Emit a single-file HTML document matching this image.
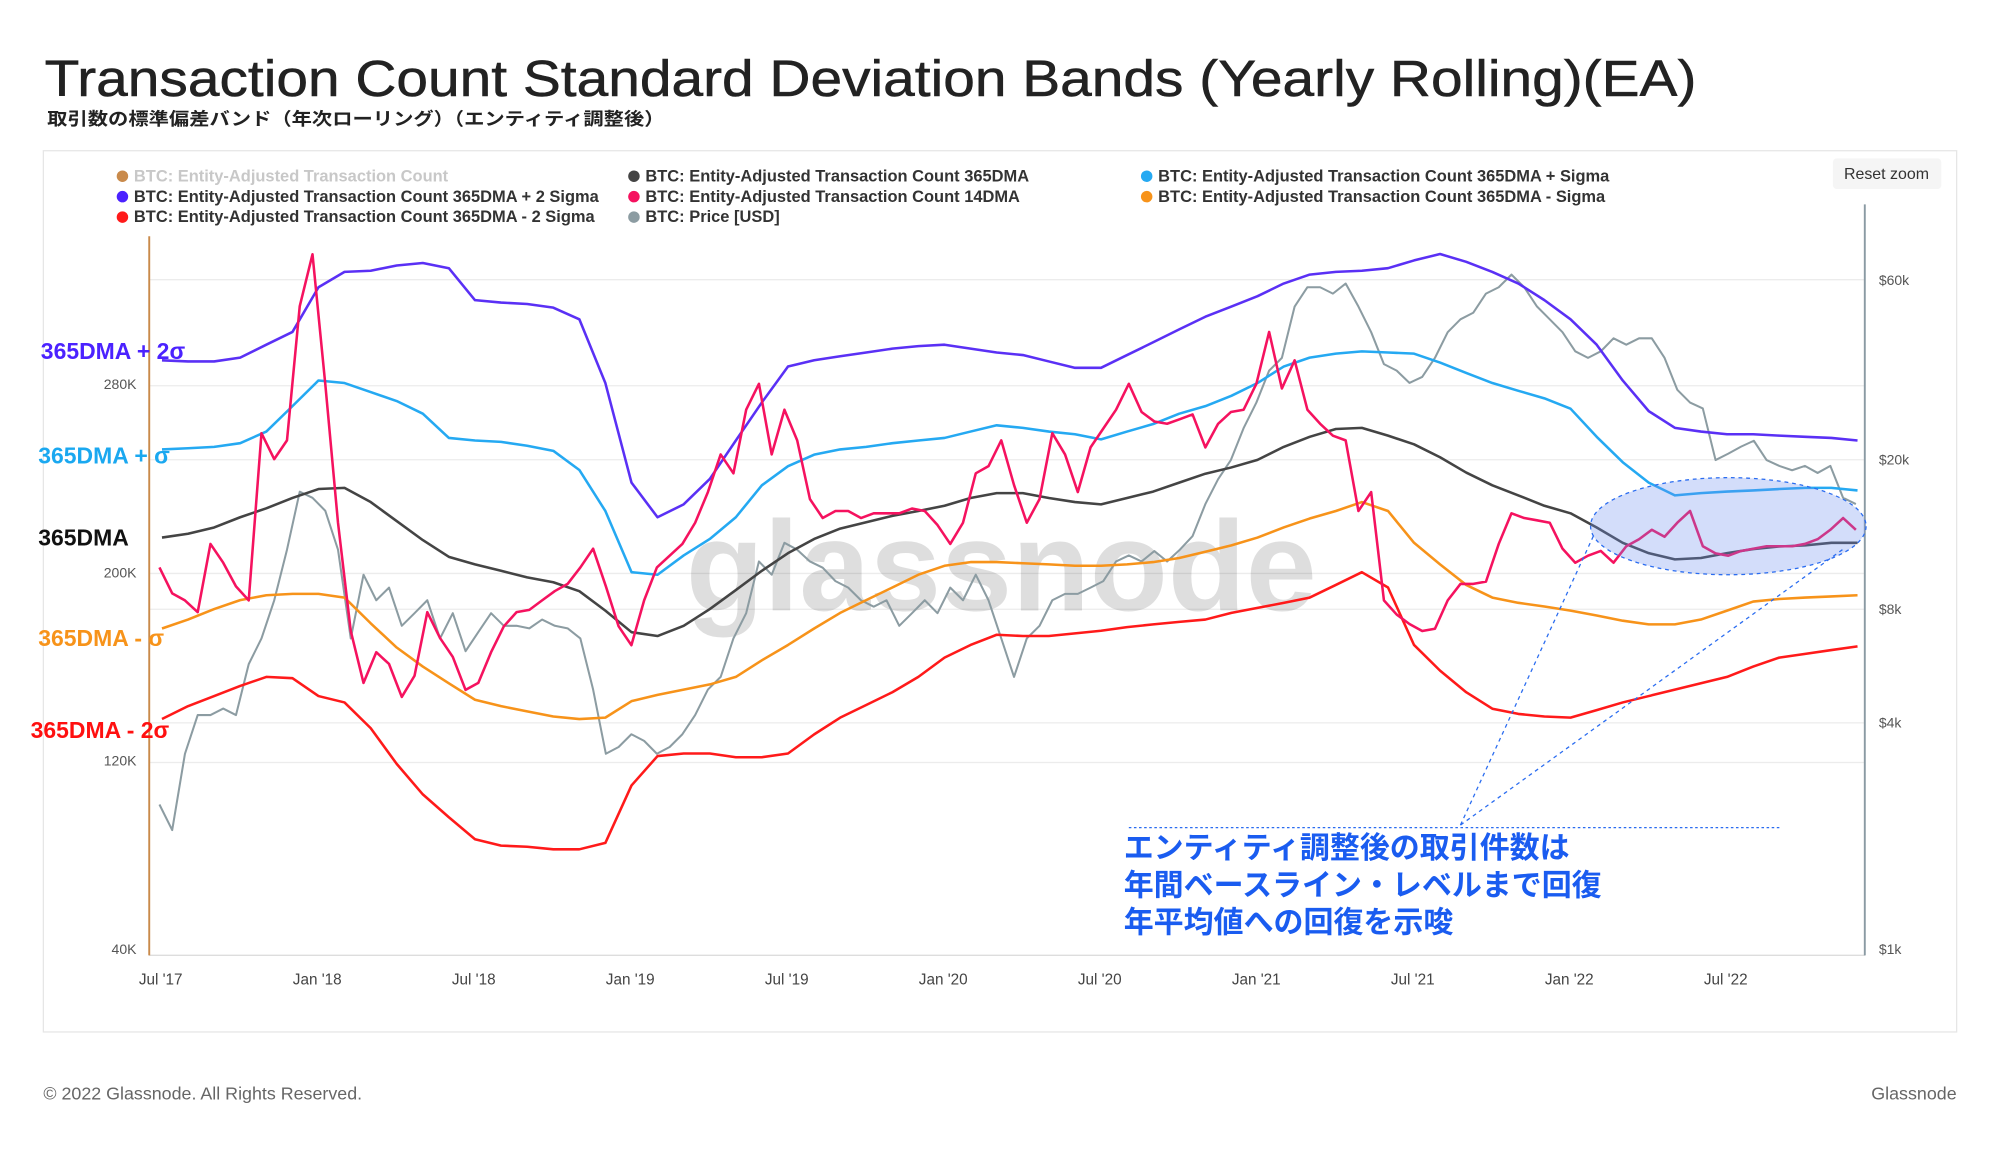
<!DOCTYPE html>
<html><head><meta charset="utf-8">
<style>
html,body{margin:0;padding:0;background:#fff;}
svg{display:block;}
text{font-family:"Liberation Sans","Noto Sans CJK JP",sans-serif;}
</style></head>
<body>
<svg id="chart" width="2000" height="1152" viewBox="0 0 1568 902" preserveAspectRatio="none" xmlns="http://www.w3.org/2000/svg">
<text x="35" y="75" font-size="40" fill="#222" textLength="1295" lengthAdjust="spacingAndGlyphs" stroke="#222" stroke-width="0.4">Transaction Count Standard Deviation Bands (Yearly Rolling)(EA)</text>
<text x="37" y="98" font-size="14" font-weight="bold" fill="#222" textLength="484" lengthAdjust="spacingAndGlyphs">取引数の標準偏差バンド（年次ローリング）（エンティティ調整後）</text>
<rect x="34" y="118" width="1500" height="690" fill="none" stroke="#e6e6e6" stroke-width="1"/>
<g>
<rect x="1437" y="124" width="85" height="24" rx="3" fill="#f5f5f5"/>
<text x="1479" y="140" font-size="12.5" fill="#333" text-anchor="middle">Reset zoom</text>
</g>
<g id="legend" font-size="12.9" font-weight="bold" fill="#333"></g>
<g id="grid"></g>
<text x="785" y="478" font-size="100" fill="#000" fill-opacity="0.13" text-anchor="middle" font-weight="bold">glassnode</text>
<g id="axes" font-size="11" fill="#555"></g>
<g id="series"></g>
<g font-size="18" font-weight="bold">
<text x="32" y="281" fill="#4b22ff">365DMA + 2σ</text>
<text x="30" y="363" fill="#1aa8f0">365DMA + σ</text>
<text x="30" y="427" fill="#111">365DMA</text>
<text x="30" y="506" fill="#f7931a">365DMA - σ</text>
<text x="24" y="578" fill="#ff1010">365DMA - 2σ</text>
</g>
<g>
<ellipse cx="1355" cy="412" rx="108" ry="38" fill="#6c8ff0" fill-opacity="0.3" stroke="#2a6cf0" stroke-width="1" stroke-dasharray="3,3"/>
<line x1="1145" y1="646" x2="1250" y2="418" stroke="#2a6cf0" stroke-width="1" stroke-dasharray="3,3"/>
<line x1="1145" y1="646" x2="1445" y2="430" stroke="#2a6cf0" stroke-width="1" stroke-dasharray="3,3"/>
<line x1="885" y1="648" x2="1395" y2="648" stroke="#2a6cf0" stroke-width="1" stroke-dasharray="2,2"/>
<g font-size="23.5" font-weight="bold" fill="#1a5cf0">
<text x="881" y="672">エンティティ調整後の取引件数は</text>
<text x="881" y="701">年間ベースライン・レベルまで回復</text>
<text x="881" y="730">年平均値への回復を示唆</text>
</g>
</g>
<text x="34" y="861" font-size="14" fill="#666">© 2022 Glassnode. All Rights Reserved.</text>
<text x="1534" y="861" font-size="14" fill="#666" text-anchor="end">Glassnode</text>
</svg>
<script>
// Monthly band data (thousands), t = months since Jul 2017
const mean365 = [214.7,216.3,219,223.3,227.1,231.5,235.3,235.8,229.8,221.7,213.6,206.5,203.3,200.6,197.8,195.7,191.9,183.7,174.5,172.9,177.2,184.3,192.4,200.6,208.1,214.1,218.5,221.2,223.9,226,228.2,231.5,233.6,233.6,231.5,229.8,228.8,231.5,234.2,238,241.8,244.5,247.7,253.2,257.5,260.8,261.3,258,254.3,248.8,242.3,236.9,232.6,228.2,225,219,212.5,208.1,205.4,206,208.1,209.8,210.9,211.4,212.5,212.5];
const plusSigmaY = [352,351,350,347,338,318,298,300,307,314,324,343,345,346,349,353,368,400,448,450,435,422,405,380,365,356,352,350,347,345,343,338,333,335,338,340,344,338,332,324,318,310,300,287,280,277,275,276,277,284,292,300,306,312,320,342,362,378,388,386,385,384,383,382,382,384];
const plus2SigmaY = [282,283,283,280,270,260,225,213,212,208,206,210,235,237,238,241,250,300,378,405,395,375,345,315,287,282,279,276,273,271,270,273,276,278,283,288,288,278,268,258,248,240,232,222,215,213,212,210,204,199,205,213,222,235,250,270,298,322,335,338,340,340,341,342,343,345];
const minusSigmaY = [492,485,477,470,466,465,465,468,488,507,522,535,548,553,557,561,563,562,549,544,540,536,530,517,505,492,480,470,460,450,443,440,440,441,442,443,443,442,440,437,432,427,421,413,406,400,393,400,425,442,458,468,472,475,478,482,486,489,489,485,478,471,469,468,467,466];
const minus2SigmaY = [563,553,545,537,530,531,545,550,570,598,622,640,657,662,663,665,665,660,615,592,590,590,593,593,590,575,562,552,542,530,515,505,497,498,498,496,494,491,489,487,485,480,476,472,468,458,448,460,505,525,542,555,559,561,562,556,550,545,540,535,530,522,515,512,509,506];
function toK(a){return a.map(y=>+(40+(743-y)*0.5424).toFixed(1));}
const plusSigma = toK(plusSigmaY);
const plus2Sigma = toK(plus2SigmaY);
const minusSigma = toK(minusSigmaY);
const minus2Sigma = toK(minus2SigmaY);
// Semi-monthly series: 14DMA (thousands) and price ($k)
const dma14 = [202,191,188,183,212,204,194,188,259,248,256,313,335,280,221,175,153,166,161,147,156,183,172,164,150,153,166,177,183,184,188,192,195,202,210,194,177,169,188,202,207,212,221,234,250,242,269,280,250,269,256,231,223,226,226,223,225,225,225,227,226,220,212,221,242,245,256,237,221,231,259,250,234,253,261,269,280,268,264,263,265,267,253,263,268,269,280,302,278,290,269,263,258,256,226,234,188,182,178,175,176,188,195,195,196,212,225,223,222,221,210,204,207,209,204,211,214,218,215,221,226,211,208,207,209,210,211,211,211,212,214,218,223,218];
const priceK = [2.42,2.07,3.30,4.18,4.18,4.35,4.18,5.71,6.68,8.44,11.5,16.4,15.8,14.6,11.5,6.68,9.87,8.44,9.12,7.22,7.80,8.44,6.68,7.80,6.18,6.95,7.80,7.22,7.22,7.11,7.50,7.22,7.11,6.68,4.89,3.30,3.44,3.72,3.57,3.30,3.44,3.72,4.18,4.89,5.28,6.68,7.80,10.7,9.87,12.0,11.5,10.7,10.3,9.49,9.12,8.44,8.12,8.44,7.22,7.80,8.44,7.80,9.12,8.44,9.87,8.44,6.68,5.28,6.68,7.22,8.44,8.78,8.78,9.12,9.49,10.7,11.1,10.7,11.4,10.7,11.5,12.5,15.2,17.7,19.9,24.2,28.3,34.4,37.2,50.9,57.3,57.3,55.1,58.6,50.9,43.5,35.8,34.4,31.9,33.1,37.2,43.5,47.1,49.0,55.1,57.3,61.9,57.3,50.9,47.1,43.5,38.7,37.2,38.7,41.9,40.3,41.9,41.9,37.2,30.6,28.3,27.3,19.9,20.7,21.6,22.4,19.9,19.2,18.7,19.2,18.4,19.2,15.8,15.2];
const xTickLabels = ["Jul '17","Jan '18","Jul '18","Jan '19","Jul '19","Jan '20","Jul '20","Jan '21","Jul '21","Jan '22","Jul '22"];
const xTickMonths = [0,6,12,18,24,30,36,42,48,54,60];
const leftTicks = [40,120,200,280];
const leftTickLabels = ["40K","120K","200K","280K"];
const rightTicks = [1,4,8,20,60];
const rightTickLabels = ["$1k","$4k","$8k","$20k","$60k"];
const semiStart = -0.098, semiStep = 0.489;

const NS="http://www.w3.org/2000/svg";
const X0=127, PXM=20.45, PB=743;
function xT(t){return X0+t*PXM;}
function yL(v){return PB-(v-40)/80*147.5;}
function yR(pk){return PB-Math.log10(pk)*294.7;}
function mk(tag,attrs,parent){const e=document.createElementNS(NS,tag);for(const k in attrs)e.setAttribute(k,attrs[k]);parent.appendChild(e);return e;}

const grid=document.getElementById('grid');
[219,302,360,449,477,566,597].forEach(y=>{
  const l=mk('line',{x1:117,x2:1462,y1:y,y2:y,stroke:'#ececec','stroke-width':1},grid);
  
  
});

const axes=document.getElementById('axes');
let a=mk('line',{x1:117,x2:1462,y1:748,y2:748,stroke:'#ddd'},axes);


a=mk('line',{x1:117,x2:117,y1:185,y2:748,stroke:'#c98a4b','stroke-width':1.5},axes);


a=mk('line',{x1:1462,x2:1462,y1:160,y2:748,stroke:'#8a9aa3','stroke-width':1.5},axes);


xTickMonths.forEach((m,i)=>{
  const t=mk('text',{x:xT(m)-1,y:771,'text-anchor':'middle','font-size':12,fill:'#444'},axes);
  t.textContent=xTickLabels[i];
  
  
});
leftTicks.forEach((v,i)=>{
  const t=mk('text',{x:107,y:yL(v)+4,'text-anchor':'end'},axes);
  t.textContent=leftTickLabels[i];
  
  
});
rightTicks.forEach((v,i)=>{
  const t=mk('text',{x:1473,y:yR(v)+4},axes);
  t.textContent=rightTickLabels[i];
  
  
});

const series=document.getElementById('series');
function path(ts,vals,yf,color,w,name){
  let d='';vals.forEach((v,i)=>{d+=(i?'L':'M')+xT(ts(i)).toFixed(1)+','+yf(v).toFixed(1);});
  const p=mk('path',{d:d,fill:'none',stroke:color,'stroke-width':w,'stroke-linejoin':'round'},series);
  
  
}
const mt=i=>i, st=i=>semiStart+i*semiStep;
path(st,priceK,yR,'#8c9ca2',1.6,'price-line');
path(mt,minus2Sigma,yL,'#ff1a1a',2,'minus-2sigma-line');
path(mt,minusSigma,yL,'#f7931a',2,'minus-sigma-line');
path(mt,plusSigma,yL,'#25a9f2',2,'plus-sigma-line');
path(mt,plus2Sigma,yL,'#5a30f5',2,'plus-2sigma-line');
path(mt,mean365,yL,'#444',2,'mean-365dma-line');
path(st,dma14,yL,'#f5125f',2,'dma14-line');

const legend=document.getElementById('legend');
const legItems=[
 [92,138,'#c98a4b','BTC: Entity-Adjusted Transaction Count',true],
 [493,138,'#444','BTC: Entity-Adjusted Transaction Count 365DMA'],
 [895,138,'#25a9f2','BTC: Entity-Adjusted Transaction Count 365DMA + Sigma'],
 [92,154,'#4b22ff','BTC: Entity-Adjusted Transaction Count 365DMA + 2 Sigma'],
 [493,154,'#f5125f','BTC: Entity-Adjusted Transaction Count 14DMA'],
 [895,154,'#f7931a','BTC: Entity-Adjusted Transaction Count 365DMA - Sigma'],
 [92,170,'#ff1a1a','BTC: Entity-Adjusted Transaction Count 365DMA - 2 Sigma'],
 [493,170,'#8c9ca2','BTC: Price [USD]']];
legItems.forEach(it=>{
  const g=mk('g',{},legend);
  
  
  mk('circle',{cx:it[0]+4,cy:it[1],r:4.5,fill:it[2]},g);
  const t=mk('text',{x:it[0]+13,y:it[1]+4,fill:it[4]?'#c8c8c8':'#333'},g);
  t.textContent=it[3];
});
</script>
</body></html>
